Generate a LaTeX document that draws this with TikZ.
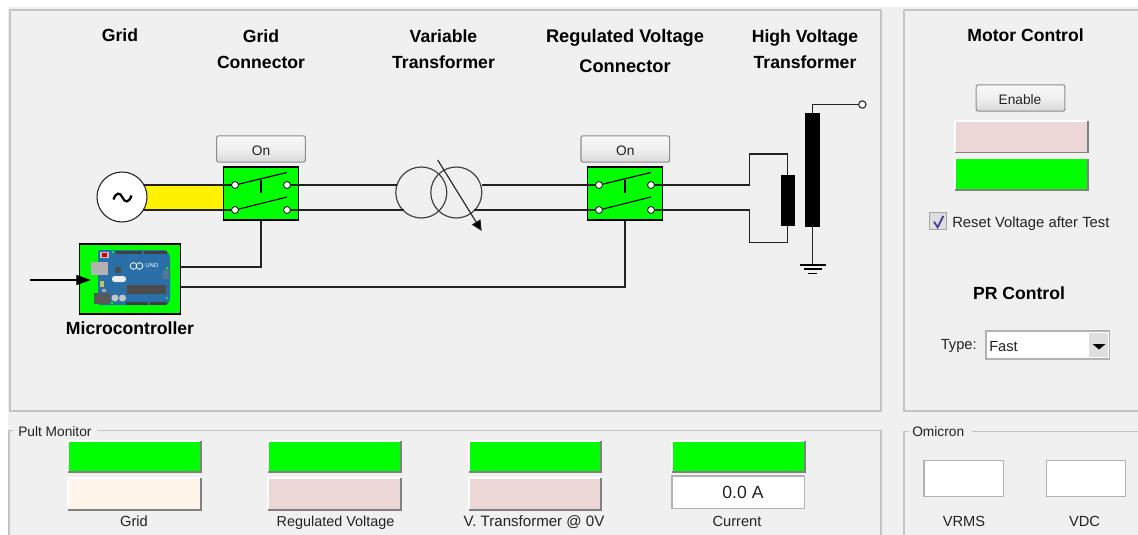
\documentclass[tikz,border=0pt]{standalone}
\usepackage{fontspec}
\setmainfont{Liberation Sans}
\usetikzlibrary{arrows.meta,calc}
\definecolor{panel}{HTML}{F0F0F0}
\definecolor{frame}{HTML}{C4C4C4}
\definecolor{ledgreen}{HTML}{00FF00}
\definecolor{ledpink}{HTML}{ECD6D6}
\definecolor{ledcream}{HTML}{FFF5EA}
\definecolor{wirec}{HTML}{222222}
\definecolor{boardblue}{HTML}{2A6FA8}
\definecolor{txt}{HTML}{222222}
\tikzset{
  x=0.75pt,y=-0.75pt,
  title/.style={font=\fontsize{13.2}{15.5}\selectfont\bfseries,align=center,text=black,inner sep=0pt},
  small/.style={font=\fontsize{#1}{13}\selectfont,text=txt,inner sep=0pt,anchor=base},
  wire/.style={draw=wirec,line width=0.95pt},
  frameln/.style={draw=frame,line width=1.2pt},
  frameth/.style={draw=frame,line width=0.8pt},
  switchbox/.style={draw=black,fill=ledgreen,line width=1pt,minimum width=56.25pt,minimum height=39.75pt,inner sep=0pt},
  term/.style={circle,draw=black,fill=white,line width=0.6pt,minimum size=5.2pt,inner sep=0pt},
  btn/.style={draw=gray!90,rounded corners=1.5pt,line width=0.8pt,top color=gray!5,bottom color=gray!30,middle color=gray!12,minimum width=66.5pt,minimum height=19.7pt,inner sep=0pt},
  field/.style={draw=gray!60,fill=white,line width=0.9pt,inner sep=0pt},
  coil/.style={circle,draw=wirec!85,line width=0.9pt,minimum size=38.25pt,inner sep=0pt},
}
\newcommand{\lampbox}[4]{%
  \fill[\lampc] (#1,#2) rectangle (#3,#4);
  \draw[white,line width=1.1pt] (#1,#4) -- (#1,#2) -- (#3,#2);
  \draw[gray,line width=1.4pt] (#1,#4) -- (#3,#4) -- (#3,#2);
}
\begin{document}
\begin{tikzpicture}
\useasboundingbox (0,0) rectangle (1138,535);
\fill[white] (0,0) rectangle (1138,535);
\fill[panel] (8,7) rectangle (1138,535);
% frames
\draw[frameln] (10,10) rectangle (881,411);
\draw[frameln] (904,10) -- (904,411) -- (1138,411);
\draw[frameln] (904,10) -- (1138,10);
\draw[frameth] (9,535) -- (9,430.5) -- (14,430.5);
\draw[frameth] (97,430.5) -- (881,430.5) -- (881,535);
\draw[frameth] (904,535) -- (904,431.5) -- (909,431.5);
\draw[frameth] (972,431.5) -- (1138,431.5);
% titles
\node[title] (tgrid) at (120,35) {Grid};
\node[title] (tconn) at (261,49) {Grid\\[4pt]Connector};
\node[title] (tvar) at (443.5,49) {Variable\\[4pt]Transformer};
\node[title,font=\fontsize{13.7}{15.5}\selectfont\bfseries] (treg) at (625,51) {Regulated Voltage\\[7pt]Connector};
\node[title] (thv) at (805,49) {High Voltage\\[4pt]Transformer};
\node[title] (tmotor) at (1025.5,35) {Motor Control};
\node[title] (tpr) at (1019,293) {PR Control};
\node[title] (tmc) at (130,328) {Microcontroller};
% yellow bus
\fill[yellow] (140,185) rectangle (224,210);
% switches
\node[switchbox] (sw1) at (261,193.5) {};
\node[switchbox] (sw2) at (625,193.5) {};
\foreach \s/\cx in {a/261,b/625}{
  \node[term] (\s tl) at (\cx-26,185) {};
  \node[term] (\s tr) at (\cx+26,185) {};
  \node[term] (\s bl) at (\cx-26,210) {};
  \node[term] (\s br) at (\cx+26,210) {};
  \draw[black,line width=0.9pt] (\s tl) -- (\cx+26,172.5);
  \draw[black,line width=0.9pt] (\s bl) -- (\cx+26,197);
  \draw[black,line width=1.1pt] (\cx,179.5) -- (\cx,193);
}
% transformer
\node[coil] (tr1) at (421.3,192.5) {};
\node[coil] (tr2) at (456.3,192.5) {};
% main wires
\draw[wire] (140,185) -- (atl);
\draw[wire] (140,210) -- (abl);
\draw[wire] (atr) -- (396.5,185);
\draw[wire] (abr) -- (404,210);
\draw[wire] (482,185) -- (btl);
\draw[wire] (474,210) -- (bbl);
% source
\node[circle,draw=wirec,fill=white,line width=0.8pt,minimum size=37.5pt,inner sep=0pt] (src) at (122,197) {};
\draw[black,line width=1.7pt] (113.5,199.5) .. controls (116,192) and (120,192) .. (122.5,197.5) .. controls (125,203) and (129,203) .. (131.5,195.5);
% variable arrow
\coordinate (ar1) at (437.7,160);
\coordinate (ar2) at (481.7,231);
\draw[wirec,line width=0.85pt,-{Triangle[length=8pt,width=7.5pt,fill=black]}] (ar1) -- (ar2);
% controller
\node[draw=black,fill=ledgreen,line width=1pt,minimum width=75.75pt,minimum height=52.5pt,inner sep=0pt] (mc) at (130,279) {};
% arduino board
\fill[boardblue,rounded corners=1pt] (98,250) -- (166,250) -- (170,256) -- (170,300) -- (167,305) -- (98,305) -- cycle;
\fill[black!75] (116,251) rectangle (142,254);
\fill[black!75] (144,251) rectangle (167,254);
\fill[black!75] (126,302) rectangle (148,305);
\fill[black!75] (150,302) rectangle (167,305);
\fill[gray!60] (91,262) rectangle (108,275);
\fill[gray!70!black] (94,293) rectangle (110,304);
\fill[black!70] (127,285) rectangle (166,294);
\fill[white!85!gray,rounded corners=2pt] (112,276) rectangle (126,282);
\fill[gray!50] (100,252) rectangle (109,258);
\fill[red!85!black] (102,253) rectangle (107,257);
\fill[black!70] (115,267) rectangle (121,273);
\fill[gray!50!boardblue] (163,270) rectangle (169,279);
\fill[gray!45] (115,298) circle (3.5);
\fill[gray!45] (122.5,298) circle (3.5);
\fill[yellow!50!gray] (100,281) rectangle (104,287);
\fill[gray!70] (102,289) -- (106,289) -- (106,292) -- (102,292) -- cycle;
\fill[ledgreen] (113,252) circle (1.3);
\fill[ledgreen] (112,303) circle (1.3);
\fill[ledgreen] (167,268) circle (1.3);
\fill[ledgreen] (167,298) circle (1.3);
\node[circle,draw=white,line width=0.6pt,minimum size=5pt,inner sep=0pt] (logoa) at (133.5,266) {};
\node[circle,draw=white,line width=0.6pt,minimum size=5pt,inner sep=0pt] (logob) at (139.5,266) {};
\node[font=\fontsize{4.5}{5}\selectfont,text=white,inner sep=0pt] (uno) at (152,265) {UNO};
\coordinate (inp) at (30,280);
\draw[black,line width=0.9pt,-{Triangle[length=11pt,width=7.5pt,fill=black]}] (inp) -- (91,280);
\draw[wire] (mc.east) ++(0,-12) -- (261,267) -- (sw1.south);
\draw[wire] (mc.east) ++(0,8) -- (625,287) -- (sw2.south);
% HV side
\node[draw=none,fill=black,minimum width=10.2pt,minimum height=38.25pt,inner sep=0pt] (lv) at (787.8,200) {};
\node[draw=none,fill=black,minimum width=11.25pt,minimum height=85.5pt,inner sep=0pt] (hv) at (812.8,170) {};
\draw[wire] (btr) -- (749.3,185) -- (749.3,154) -- (787.3,154) -- (787.3,175);
\draw[wire] (bbr) -- (749.3,210) -- (749.3,242.5) -- (787.3,242.5) -- (787.3,225);
\node[circle,draw=wirec,fill=white,line width=0.8pt,minimum size=5.5pt,inner sep=0pt] (outt) at (862.3,104.5) {};
\draw[wire] (hv.north) -- (812.8,104.5) -- (outt);
\coordinate (gnd) at (812.8,265);
\draw[wire] (hv.south) -- (gnd);
\draw[black,line width=0.9pt] (800,265) -- (825.5,265);
\draw[black,line width=0.9pt] (804,269) -- (821.7,269);
\draw[black,line width=0.9pt] (808,273.3) -- (817,273.3);
% buttons
\node[btn] (b1) at (261,149) {};
\node[btn] (b2) at (625.3,149) {};
\node[btn] (b3) at (1020.5,98) {};
\node[small=10.3] (b1t) at (261,155.5) {On};
\node[small=10.3] (b2t) at (625.3,155.5) {On};
\node[small=10.3] (b3t) at (1020,104.5) {Enable};
% motor lamps
\def\lampc{ledpink}\lampbox{955}{121}{1088}{152.5}
\def\lampc{ledgreen}\lampbox{955}{158.5}{1088}{190}
% checkbox
\node[draw=gray!70,fill=blue!8!gray!25,line width=0.8pt,minimum size=12.5pt,inner sep=0pt] (cb) at (937.7,221) {};
\draw[blue!40!gray!80!black,line width=1.3pt] (934,221.7) -- (937.7,227.3) -- (943.3,216);
\node[small=11.1,anchor=base west] (cbl) at (952,227) {Reset Voltage after Test};
% combo
\node[small=11,anchor=base west] (ty) at (940.5,349) {Type:};
\node[draw=gray!60,fill=white,line width=0.8pt,minimum width=92.7pt,minimum height=21pt,inner sep=0pt] (combo) at (1047.8,345) {};
\node[small=11,anchor=base west] (fast) at (989,351.5) {Fast};
\fill[gray!25] (1088.7,333) rectangle (1108,357);
\fill[black] (1092.5,344) -- (1105.5,344) -- (1099,349.5) -- cycle;
% Pult monitor
\node[small=10.3,anchor=base west] (pm) at (18,436) {Pult Monitor};
\def\lampc{ledgreen}
\lampbox{68}{441}{201}{472}
\lampbox{268}{441}{401}{472}
\lampbox{469}{441}{601}{472}
\lampbox{672}{441}{805}{472}
\def\lampc{ledcream}\lampbox{68}{478}{201}{510}
\def\lampc{ledpink}
\lampbox{268}{478}{401}{510}
\lampbox{469}{478}{601}{510}
\node[field,minimum width=99.5pt,minimum height=24.5pt] (cur) at (738.3,492.3) {};
\node[small=13.2] (curv) at (743,498.5) {0.0 A};
\node[small=11] (l1) at (134,526.5) {Grid};
\node[small=10.8] (l2) at (335.5,526.5) {Regulated Voltage};
\node[small=11.3] (l3) at (534,526.5) {V. Transformer @ 0V};
\node[small=11] (l4) at (737,526.5) {Current};
% Omicron
\node[small=10.3,anchor=base west] (om) at (912,436) {Omicron};
\node[field,minimum width=59.5pt,minimum height=27pt] (f1) at (963.7,478.5) {};
\node[field,minimum width=59.5pt,minimum height=27pt] (f2) at (1086,478.5) {};
\node[small=11] (l5) at (964,526.5) {VRMS};
\node[small=11] (l6) at (1084.5,526.5) {VDC};
\end{tikzpicture}
\end{document}
